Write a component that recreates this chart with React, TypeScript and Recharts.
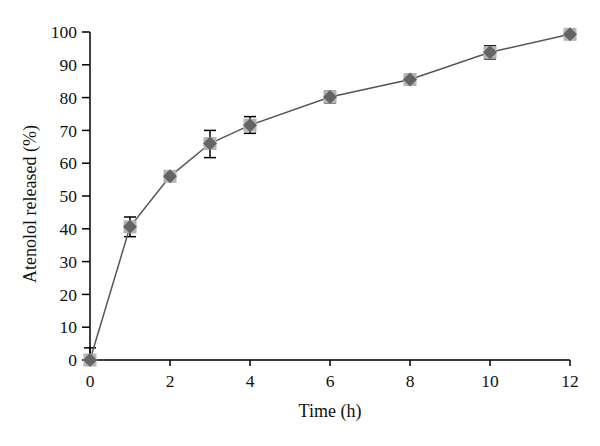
import React from "react";
import { LineChart, Line, XAxis, YAxis, ErrorBar } from "recharts";

const times = [0, 1, 2, 3, 4, 6, 8, 10, 12];
const released = [0, 40.6, 56, 66, 71.6, 80.2, 85.5, 93.8, 99.3];
const errLow = [0, 3, 1, 4.3, 2.5, 1.8, 1, 2, 0.6];
const errHigh = [3.7, 3, 1, 4, 2.6, 1.7, 1, 2, 0.6];
const xTicks = [0, 2, 4, 6, 8, 10, 12];
const yTicks = [0, 10, 20, 30, 40, 50, 60, 70, 80, 90, 100];

const data = times.map((t, i) => ({
  t,
  v: released[i],
  err: [errLow[i], errHigh[i]],
}));

const FONT = "'Liberation Serif', 'DejaVu Serif', serif";

const Marker = (props: any) => {
  const { cx, cy, index } = props;
  if (cx == null || cy == null) return null;
  const s = 6.5;
  const d = 7;
  return (
    <g key={`m-${index}`}>
      <rect x={cx - s} y={cy - s} width={2 * s} height={2 * s} fill="#b4b4b4" />
      <polygon
        points={`${cx},${cy - d} ${cx + d},${cy} ${cx},${cy + d} ${cx - d},${cy}`}
        fill="#646464"
      />
    </g>
  );
};

export default function App() {
  return (
    <div style={{ position: "absolute", left: 0, top: 0, width: 600, height: 446, background: "#fff" }}>
      <LineChart
        width={600}
        height={446}
        data={data}
        margin={{ top: 32, right: 30, bottom: 29, left: 0 }}
      >
        <XAxis
          dataKey="t"
          type="number"
          domain={[0, 12]}
          ticks={xTicks}
          stroke="#000"
          strokeWidth={1.5}
          tickSize={6}
          height={57}
          tick={{ fill: "#111", fontSize: 17.5, fontFamily: FONT }}
          tickMargin={9}
          label={{
            value: "Time (h)",
            position: "insideBottom",
            offset: 0,
            fill: "#111",
            fontSize: 18,
            fontFamily: FONT,
          }}
        />
        <YAxis
          type="number"
          domain={[0, 100]}
          ticks={yTicks}
          stroke="#000"
          strokeWidth={1.5}
          tickSize={8}
          width={90}
          interval={0}
          tick={{ fill: "#111", fontSize: 17.5, fontFamily: FONT }}
          tickMargin={5}
          label={{
            value: "Atenolol released (%)",
            angle: -90,
            position: "insideLeft",
            offset: 30,
            dy: 8,
            style: { textAnchor: "middle" },
            fill: "#111",
            fontSize: 18,
            fontFamily: FONT,
          }}
        />
        <Line
          type="linear"
          dataKey="v"
          stroke="#555"
          strokeWidth={1.5}
          dot={<Marker />}
          activeDot={false}
          isAnimationActive={false}
        >
          <ErrorBar dataKey="err" direction="y" width={6} stroke="#000" strokeWidth={1.5} />
        </Line>
      </LineChart>
    </div>
  );
}
